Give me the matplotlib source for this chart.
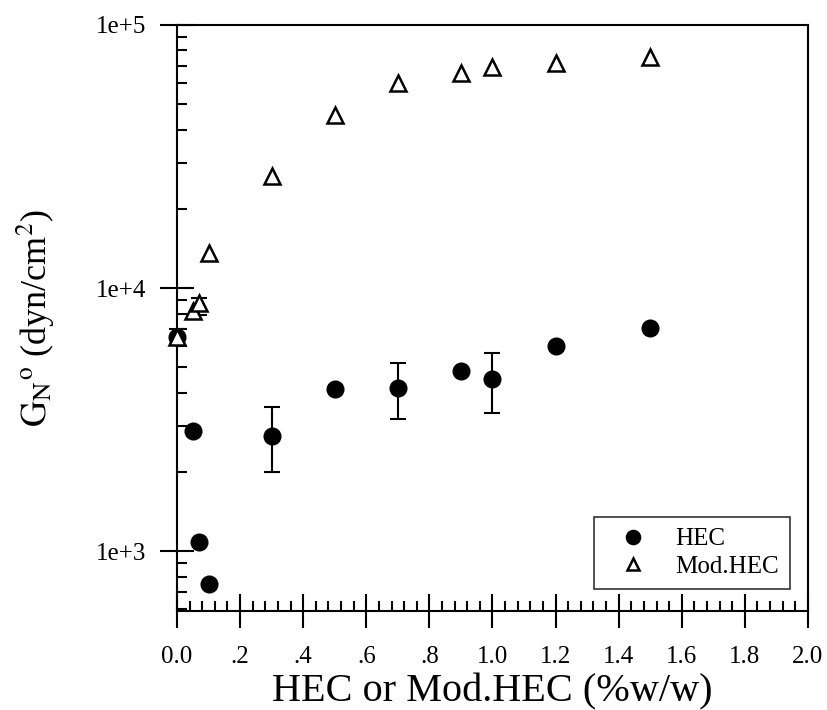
import numpy as np
import matplotlib
matplotlib.use("Agg")
import matplotlib.pyplot as plt
from matplotlib.ticker import FixedLocator, LogLocator, NullFormatter

plt.rcParams['font.family'] = ['Liberation Serif', 'DejaVu Serif']
plt.rcParams['mathtext.fontset'] = 'stix'

# HEC data
hec_x = [0.0, 0.05, 0.07, 0.10, 0.30, 0.50, 0.70, 0.90, 1.00, 1.20, 1.50]
hec_y = [6500, 2860, 1080, 750, 2735, 4130, 4170, 4835, 4510, 6020, 7050]
# error bars (lower, upper) for HEC, only some points have them
hec_err_x = [0.30, 0.70, 1.00]
hec_err_y = [2735, 4170, 4510]
hec_err_lo = [1995, 3180, 3350]
hec_err_hi = [3527, 5190, 5660]

# Mod.HEC data
mod_x = [0.0, 0.05, 0.07, 0.10, 0.30, 0.50, 0.70, 0.90, 1.00, 1.20, 1.50]
mod_y = [6510, 8180, 8770, 13600, 26700, 45500, 60200, 65700, 69200, 71700, 75500]
mod_err_x = [0.0, 0.07]
mod_err_y = [6510, 8770]
mod_err_lo = [6080, 7890]
mod_err_hi = [6980, 9160]

xticks = [0.0, 0.2, 0.4, 0.6, 0.8, 1.0, 1.2, 1.4, 1.6, 1.8, 2.0]
xticklabels = ['0.0', '.2', '.4', '.6', '.8', '1.0', '1.2', '1.4', '1.6', '1.8', '2.0']
yticks = [1e3, 1e4, 1e5]
yticklabels = ['1e+3', '1e+4', '1e+5']

fig = plt.figure(figsize=(8.27, 7.10), dpi=100)
ax = fig.add_axes([0.214, 0.1394, 0.763, 0.8254])

# error bars first
eb1 = ax.errorbar(hec_err_x, hec_err_y,
                  yerr=[np.array(hec_err_y) - np.array(hec_err_lo), np.array(hec_err_hi) - np.array(hec_err_y)],
                  fmt='none', ecolor='black', elinewidth=1.5, capsize=6, capthick=1.5, zorder=2)
eb2 = ax.errorbar(mod_err_x, mod_err_y,
                  yerr=[np.array(mod_err_y) - np.array(mod_err_lo), np.array(mod_err_hi) - np.array(mod_err_y)],
                  fmt='none', ecolor='black', elinewidth=1.5, capsize=6, capthick=1.5, zorder=2)
for eb in (eb1, eb2):
    for art in eb.lines[1] + eb.lines[2]:
        art.set_clip_on(False)

ax.plot(hec_x, hec_y, 'o', color='black', markersize=12, linestyle='none', label='HEC',
        zorder=3, clip_on=False)
ax.plot(mod_x, mod_y, '^', markerfacecolor='white', markeredgecolor='black', markeredgewidth=1.8,
        markersize=11, linestyle='none', label='Mod.HEC', zorder=4, clip_on=False)

ax.set_yscale('log')
ax.set_xlim(0, 2.0)
ax.set_ylim(592, 1e5)

ax.xaxis.set_major_locator(FixedLocator(xticks))
ax.set_xticklabels(xticklabels)
ax.xaxis.set_minor_locator(FixedLocator(np.arange(0, 2.001, 0.04)))
ax.yaxis.set_major_locator(FixedLocator(yticks))
ax.set_yticklabels(yticklabels)
ax.yaxis.set_minor_locator(LogLocator(base=10, subs=np.arange(2, 10), numticks=20))
ax.yaxis.set_minor_formatter(NullFormatter())

ax.tick_params(which='major', direction='inout', length=24, width=1.5, labelsize=18)
ax.tick_params(which='minor', direction='in', length=7, width=1.5)
ax.tick_params(top=False, right=False, which='both')
ax.tick_params(axis='x', which='major', pad=13)
ax.tick_params(axis='y', which='major', pad=10)
for s in ax.spines.values():
    s.set_linewidth(1.5)

ax.set_xlabel('HEC or Mod.HEC (%w/w)', fontsize=29, labelpad=4)
ax.set_ylabel(r'$\mathrm{G_N}^{\mathrm{o}}$ (dyn/cm$^2$)', fontsize=26)
ax.yaxis.set_label_coords(-0.19, 0.5)

leg = ax.legend(loc='lower right', bbox_to_anchor=(0.971, 0.0375), fontsize=18,
                frameon=True, fancybox=False, edgecolor='black', handletextpad=0.58,
                borderpad=0.45, labelspacing=0.2, handlelength=2.2, borderaxespad=0,
                markerscale=0.85)
leg.get_frame().set_linewidth(1.2)
leg.set_zorder(5)

plt.savefig('out.png', dpi=100)
